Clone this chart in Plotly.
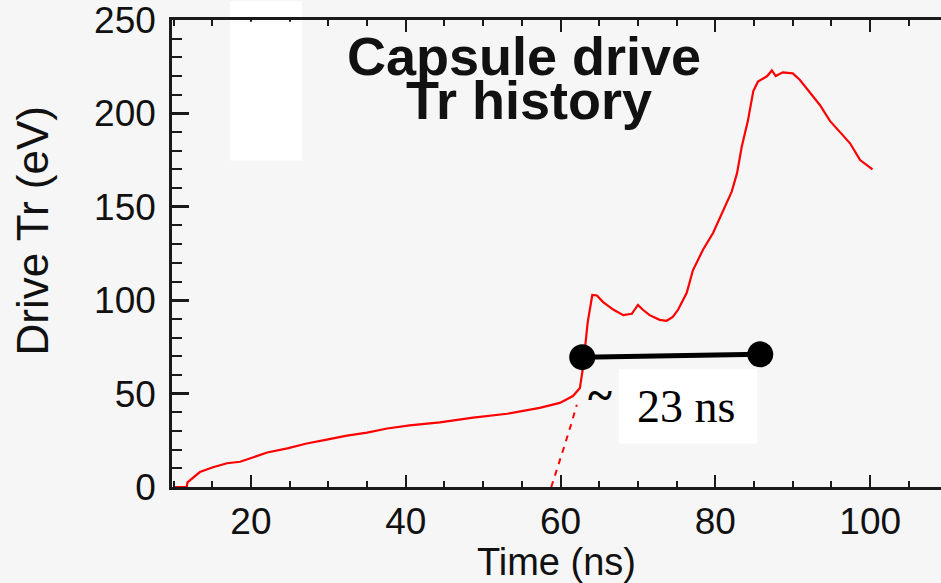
import plotly.graph_objects as go

# Radiation drive temperature history
time_ns = [10.0, 11.7, 11.8, 13.4, 15.1, 16.9, 18.6, 19.9, 22.1, 24.7, 27.2, 29.8,
           32.4, 35.0, 37.6, 40.5, 44.4, 48.7, 53.1, 57.3, 59.9, 61.6, 62.5, 62.9,
           63.2, 63.5, 64.1, 64.7, 65.5, 66.8, 68.1, 69.2, 70.0, 70.6, 71.5, 72.8,
           73.7, 74.5, 75.2, 76.3, 77.1, 78.4, 79.7, 81.0, 82.1, 82.8, 83.4, 84.2,
           84.9, 85.5, 86.7, 87.3, 87.8, 88.7, 90.0, 90.9, 92.2, 93.5, 94.8, 96.1,
           97.4, 98.7, 100.3]
tr_ev = [0, 0, 2.5, 8.0, 10.6, 12.7, 13.5, 15.4, 18.5, 20.7, 23.3, 25.4,
         27.5, 29.1, 31.3, 33.0, 34.6, 37.1, 39.2, 42.4, 45.0, 48.7, 53.0, 64.0,
         78.0, 88.0, 102.8, 102.5, 99.0, 95.0, 92.0, 92.7, 97.5, 95.0, 92.0, 89.5,
         89.0, 91.0, 95.0, 104.0, 116.0, 127.0, 136.0, 148.0, 158.0, 168.0, 182.0, 196.0,
         212.0, 217.0, 220.0, 223.0, 220.0, 222.0, 221.4, 218.0, 211.0, 204.5, 196.0, 190.0,
         184.0, 175.0, 170.0]

# Extrapolated foot of the main pulse
foot_time_ns = [58.8, 59.6, 60.5, 61.4, 62.1]
foot_tr_ev = [0, 10, 22, 34, 44]

# Drive duration marker
marker_time_ns = [62.8, 85.8]
marker_tr_ev = [69.5, 71.0]

x_ticks = [20, 40, 60, 80, 100]
y_ticks = [0, 50, 100, 150, 200, 250]

AX = "#1a1a1a"
BG = "#f6f6f6"
SANS = "Liberation Sans, Arial, sans-serif"
SERIF = "Liberation Serif, Times New Roman, serif"

fig = go.Figure()
fig.add_trace(go.Scatter(x=foot_time_ns, y=foot_tr_ev, mode="lines",
                         line=dict(color="#ff0000", width=2, dash="6px,6px"),
                         hoverinfo="skip"))
fig.add_trace(go.Scatter(x=time_ns, y=tr_ev, mode="lines",
                         line=dict(color="#ff0000", width=2.2)))
fig.add_trace(go.Scatter(x=marker_time_ns, y=marker_tr_ev, mode="lines+markers",
                         line=dict(color="#000000", width=5),
                         marker=dict(color="#000000", size=26)))

fig.update_layout(
    width=941, height=583,
    margin=dict(l=172, r=0, t=15, b=96),
    paper_bgcolor=BG, plot_bgcolor="rgba(0,0,0,0)",
    showlegend=False,
    font=dict(family=SANS, color="#111111"),
    xaxis=dict(range=[9.8, 109.15], tickvals=x_ticks, ticks="inside", ticklen=12,
               tickwidth=2, tickcolor=AX, showline=True, linewidth=2.5, linecolor=AX,
               mirror="ticks", showgrid=False, zeroline=False,
               tickfont=dict(size=37, family=SANS),
               minor=dict(dtick=5, ticks="inside", ticklen=6, tickwidth=2, tickcolor=AX),
               title=dict(text="Time (ns)", font=dict(size=38, family=SANS), standoff=0)),
    yaxis=dict(range=[0, 250], tickvals=y_ticks, ticks="inside", ticklen=17,
               tickwidth=2.5, tickcolor=AX, showline=True, linewidth=2.5, linecolor=AX,
               showgrid=False, zeroline=False, ticklabelstandoff=6,
               ticklabeloverflow="allow",
               tickfont=dict(size=37, family=SANS),
               minor=dict(dtick=10, ticks="inside", ticklen=10, tickwidth=2, tickcolor=AX)),
    yaxis2=dict(range=[0, 250], overlaying="y", side="right", tickvals=y_ticks,
                ticks="inside", ticklen=11, tickwidth=2.5, tickcolor=AX,
                showticklabels=False, showline=False, showgrid=False, zeroline=False,
                minor=dict(dtick=10, ticks="inside", ticklen=5, tickwidth=2, tickcolor=AX)),
)

# plain white panels behind the text blocks
fig.add_shape(type="rect", xref="paper", yref="paper", x0=0.0754, x1=0.169,
              y0=0.9985, y1=1.04, fillcolor="white", line_width=0, layer="below")
fig.add_shape(type="rect", xref="paper", yref="paper", x0=0.0754, x1=0.169,
              y0=0.699, y1=0.996, fillcolor="white", line_width=0, layer="above")
fig.add_shape(type="rect", xref="paper", yref="paper", x0=0.581, x1=0.761,
              y0=0.093, y1=0.252, fillcolor="white", line_width=0, layer="above")

fig.add_annotation(text="<b>Capsule drive</b>", xref="paper", yref="paper",
                   x=0.458, y=0.922, showarrow=False, xanchor="center", yanchor="middle",
                   font=dict(size=54, family=SANS, color="#111111"))
fig.add_annotation(text="<b>Tr history</b>", xref="paper", yref="paper",
                   x=0.464, y=0.828, showarrow=False, xanchor="center", yanchor="middle",
                   font=dict(size=54, family=SANS, color="#111111"))
fig.add_annotation(text="Drive Tr (eV)", xref="paper", yref="paper",
                   x=-0.181, y=0.549, textangle=-90, showarrow=False,
                   xanchor="center", yanchor="middle",
                   font=dict(size=44, family=SANS, color="#111111"))
fig.add_annotation(text="<b>~</b>", xref="paper", yref="paper",
                   x=0.557, y=0.197, showarrow=False, xanchor="center", yanchor="middle",
                   font=dict(size=46, family=SERIF, color="#000000"))
fig.add_annotation(text="23 ns", xref="paper", yref="paper",
                   x=0.668, y=0.172, showarrow=False, xanchor="center", yanchor="middle",
                   font=dict(size=46, family=SERIF, color="#000000"))

fig.write_html("out.html")
